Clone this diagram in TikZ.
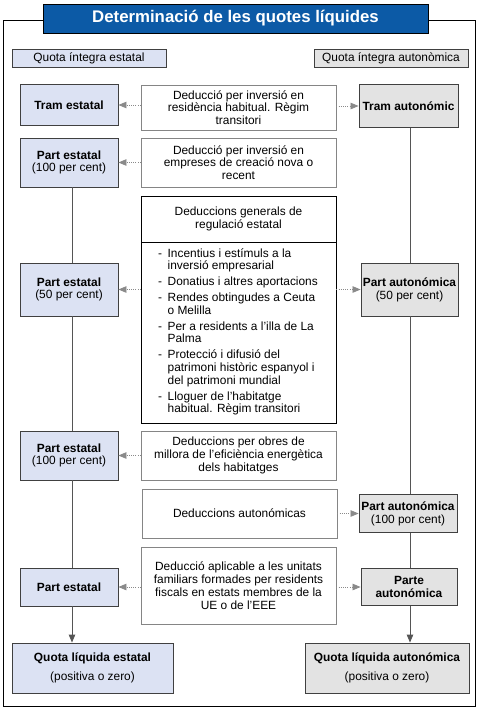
\documentclass[tikz,border=0pt]{standalone}
\usepackage{fontspec}
\setmainfont{Liberation Sans}
\usetikzlibrary{arrows.meta}
\definecolor{titleblue}{HTML}{0C5AA6}
\definecolor{blueside}{HTML}{DCE2F3}
\definecolor{greyside}{HTML}{E3E3E3}
\definecolor{sideborder}{HTML}{404040}
\definecolor{midborder}{HTML}{858585}
\definecolor{linegrey}{HTML}{555555}
\definecolor{dotgrey}{HTML}{8A8A8A}
\begin{document}
\begin{tikzpicture}[x=1pt,y=-1pt,
  every node/.style={font=\fontsize{11.9}{12.8}\selectfont, inner sep=0pt, align=center},
  sz/.style 2 args={minimum width=#1pt, minimum height=#2pt},
  bluebox/.style={draw=sideborder, fill=blueside, line width=0.9pt},
  greybox/.style={draw=sideborder, fill=greyside, line width=0.9pt},
  midbox/.style={draw=midborder, fill=white, line width=0.9pt, minimum width=195pt},
  genbox/.style={draw=black, fill=white, line width=0.9pt, minimum width=195pt},
  dotarrow/.style={draw=dotgrey, line width=0.8pt, dash pattern=on 0.8pt off 1.4pt, -{Triangle[length=8pt,width=6.5pt,fill=dotgrey]}},
  vline/.style={draw=linegrey, line width=0.9pt},
  varrow/.style={draw=linegrey, line width=0.9pt, -{Triangle[length=8pt,width=6.5pt]}}
]
\useasboundingbox (0,0) rectangle (487,712);
\fill[white] (0,0) rectangle (487,712);

% frame and title
\node[draw=black, line width=0.9pt, sz={472}{686}] (frame) at (239,363) {};
\node[draw=black, fill=titleblue, text=white, line width=0.9pt, sz={385}{29},
  font=\fontsize{16.8}{18}\selectfont\bfseries] (title) at (235.5,18.5) {Determinació de les quotes líquides};

% top labels
\node[bluebox, sz={154}{18}] (qie) at (89,58) {Quota íntegra estatal};
\node[greybox, sz={154}{18}] (qia) at (391,58) {Quota íntegra autonòmica};

% left column
\node[bluebox, sz={98}{41}] (te) at (69,105) {\textbf{Tram estatal}};
\node[bluebox, sz={98}{49}] (pe1) at (69,162.5) {\textbf{Part estatal}\\(100 per cent)};
\node[bluebox, sz={98}{53}] (pe2) at (69,289.5) {\textbf{Part estatal}\\(50 per cent)};
\node[bluebox, sz={98}{49}] (pe3) at (69,455.5) {\textbf{Part estatal}\\(100 per cent)};
\node[bluebox, sz={98}{38}] (pe4) at (69,587) {\textbf{Part estatal}};
\node[bluebox, sz={161}{50}] (qle) at (92.5,668) {\textbf{Quota líquida estatal}\\[6pt](positiva o zero)};

% right column
\node[greybox, sz={99}{43}] (ta) at (408.5,106) {\textbf{Tram autonómic}};
\node[greybox, sz={97}{53}] (pa1) at (409.5,289.5) {\textbf{Part autonómica}\\(50 per cent)};
\node[greybox, sz={98}{38}] (pa2) at (408,513.5) {\textbf{Part autonómica}\\(100 por cent)};
\node[greybox, sz={96}{37}] (pa3) at (409,587) {\textbf{Parte}\\\textbf{autonómica}};
\node[greybox, sz={164}{50}] (qla) at (387,668) {\textbf{Quota líquida autonómica}\\[6pt](positiva o zero)};

% middle column
\node[midbox, minimum height=45pt] (c1) at (238.5,107.5) {Deducció per inversió en\\residència habitual. Règim\\transitori};
\node[midbox, minimum height=49pt] (c2) at (238.5,162.5) {Deducció per inversió en\\empreses de creació nova o\\recent};
\node[genbox, minimum height=46pt] (c3h) at (238.5,219) {Deduccions generals de\\regulació estatal};
\node[genbox, minimum height=181pt] (c3) at (238.5,332.5) {};
\node[anchor=west] (list) at (158,332.5) {\begin{tabular}{@{}l@{\hspace{5.5pt}}l@{}}
-&Incentius i estímuls a la\\
&inversió empresarial\\[3pt]
-&Donatius i altres aportacions\\[3pt]
-&Rendes obtingudes a Ceuta\\
&o Melilla\\[3pt]
-&Per a residents a l’illa de La\\
&Palma\\[3pt]
-&Protecció i difusió del\\
&patrimoni històric espanyol i\\
&del patrimoni mundial\\[3pt]
-&Lloguer de l’habitatge\\
&habitual. Règim transitori
\end{tabular}};
\node[midbox, minimum height=49pt] (c4) at (238.5,455.5) {Deduccions per obres de\\millora de l’eficiència energètica\\dels habitatges};
\node[midbox, minimum height=49pt] (c5) at (239.5,513.5) {Deduccions autonómicas};
\node[midbox, minimum height=77pt] (c6) at (238.5,585.5) {Deducció aplicable a les unitats\\familiars formades per residents\\fiscals en estats membres de la\\UE o de l’EEE};

% vertical guide coordinates
\coordinate (lx) at (72,0);
\coordinate (rx) at (410,0);

% left vertical line
\draw[vline] (pe1.south -| lx) -- (pe2.north -| lx);
\draw[vline] (pe2.south -| lx) -- (pe3.north -| lx);
\draw[vline] (pe3.south -| lx) -- (pe4.north -| lx);
\draw[varrow] (pe4.south -| lx) -- (qle.north -| lx);

% right vertical line
\draw[vline] (ta.south -| rx) -- (pa1.north -| rx);
\draw[vline] (pa1.south -| rx) -- (pa2.north -| rx);
\draw[vline] (pa2.south -| rx) -- (pa3.north -| rx);
\draw[varrow] (pa3.south -| rx) -- (qla.north -| rx);

% dotted arrows
\draw[dotarrow] (c1.west |- te.east) -- (te.east);
\draw[dotarrow] (c1.east |- ta.west) -- (ta.west);
\draw[dotarrow] (c2.west |- pe1.east) -- (pe1.east);
\draw[dotarrow] (c3.west |- pe2.east) -- (pe2.east);
\draw[dotarrow] (c3.east |- pa1.west) -- (pa1.west);
\draw[dotarrow] (c4.west |- pe3.east) -- (pe3.east);
\draw[dotarrow] (c5.east |- pa2.west) -- (pa2.west);
\draw[dotarrow] (c6.west |- pe4.east) -- (pe4.east);
\draw[dotarrow] (c6.east |- pa3.west) -- (pa3.west);
\end{tikzpicture}
\end{document}
